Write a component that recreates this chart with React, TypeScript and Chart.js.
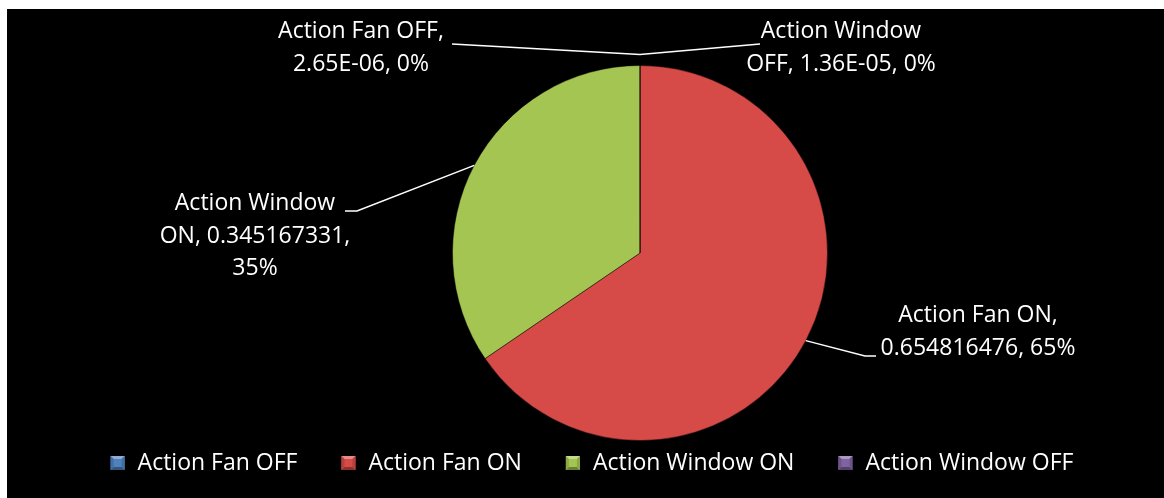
import React, { useEffect, useRef } from "react";
import { Chart, ArcElement, PieController } from "chart.js";

Chart.register(ArcElement, PieController);

// ---- data ----
const categories = ["Action Fan OFF", "Action Fan ON", "Action Window ON", "Action Window OFF"];
const values = [2.65e-6, 0.654816476, 0.345167331, 1.36e-5];
const colors = ["#4F81BD", "#D64B47", "#A5C552", "#8064A2"];

// ---- layout/styles (not data) ----
const W = 1164;
const H = 498;
const FONT = "23px 'Open Sans'";
const LINE_H = 32.5;
// text-block offsets from pie centre, wrap width, leader polyline (from arc anchor)
const labelLayout = [
  { dx: -279, dy: -205, wrap: 190, anchorOut: 11, leader: [[-188, -209]] },
  { dx: 338, dy: 79, wrap: 260, anchorOut: 0, leader: [[225, 103], [236, 103]] },
  { dx: -385, dy: -17, wrap: 201, anchorOut: 0, leader: [[-283, -42], [-295, -42]] },
  { dx: 201, dy: -205, wrap: 190, anchorOut: 11, leader: [[120, -209]] },
];

function fmtGeneral(v: number): string {
  if (v !== 0 && Math.abs(v) < 1e-4) {
    const s = v.toExponential(2).toUpperCase(); // 2.65E-6
    return s.replace(/E([+-])(\d)$/, "E$10$2");
  }
  return String(parseFloat(v.toPrecision(9)));
}

function shade(hex: string, f: number): string {
  const n = parseInt(hex.slice(1), 16);
  let r = (n >> 16) & 255, g = (n >> 8) & 255, b = n & 255;
  if (f >= 0) {
    r = r + (255 - r) * f; g = g + (255 - g) * f; b = b + (255 - b) * f;
  } else {
    r = r * (1 + f); g = g * (1 + f); b = b * (1 + f);
  }
  return `rgb(${Math.round(r)},${Math.round(g)},${Math.round(b)})`;
}

function wrapText(ctx: CanvasRenderingContext2D, text: string, maxW: number): string[] {
  const words = text.split(" ");
  const lines: string[] = [];
  let cur = "";
  for (const w of words) {
    const t = cur ? cur + " " + w : w;
    if (cur && ctx.measureText(t).width > maxW) {
      lines.push(cur);
      cur = w;
    } else cur = t;
  }
  if (cur) lines.push(cur);
  return lines;
}

const bgPlugin = {
  id: "bg",
  beforeDraw(chart: any) {
    const ctx = chart.ctx;
    ctx.save();
    ctx.fillStyle = "#ffffff";
    ctx.fillRect(0, 0, W, H);
    ctx.fillStyle = "#000000";
    ctx.fillRect(7, 9, W - 7, H - 9);
    ctx.restore();
  },
};

const labelPlugin = {
  id: "pieLabels",
  afterDraw(chart: any) {
    const ctx: CanvasRenderingContext2D = chart.ctx;
    const meta = chart.getDatasetMeta(0);
    const data: number[] = chart.data.datasets[0].data;
    const total = data.reduce((a, b) => a + b, 0);
    ctx.save();
    ctx.font = FONT;
    ctx.fillStyle = "#ffffff";
    ctx.strokeStyle = "#ffffff";
    ctx.lineWidth = 1.5;
    ctx.textAlign = "center";
    ctx.textBaseline = "middle";
    meta.data.forEach((arc: any, i: number) => {
      const { x, y, startAngle, endAngle, outerRadius } = arc.getProps(
        ["x", "y", "startAngle", "endAngle", "outerRadius"],
        true
      );
      const lay = labelLayout[i];
      const mid = (startAngle + endAngle) / 2;
      const ax = x + Math.cos(mid) * (outerRadius + lay.anchorOut);
      const ay = y + Math.sin(mid) * (outerRadius + lay.anchorOut);
      ctx.beginPath();
      ctx.moveTo(ax, ay);
      lay.leader.forEach((p) => ctx.lineTo(x + p[0], y + p[1]));
      ctx.stroke();
      const pct = Math.round((data[i] / total) * 100) + "%";
      const text = `${chart.data.labels[i]}, ${fmtGeneral(data[i])}, ${pct}`;
      const lines = wrapText(ctx, text, lay.wrap);
      const cx = x + lay.dx;
      const cy = y + lay.dy;
      const top = cy - ((lines.length - 1) * LINE_H) / 2;
      lines.forEach((ln, k) => ctx.fillText(ln, cx, top + k * LINE_H));
    });

    // legend
    const box = 14;
    const gapBox = 13;
    const gapItem = 44;
    const legendCx = 592;
    const legendCy = 463;
    const labels: string[] = chart.data.labels;
    const widths = labels.map((l) => ctx.measureText(l).width);
    const totalW =
      widths.reduce((a, b) => a + b, 0) + labels.length * (box + gapBox) + (labels.length - 1) * gapItem;
    let lx = legendCx - totalW / 2;
    ctx.textAlign = "left";
    labels.forEach((l, i) => {
      const c = colors[i];
      const bx = lx;
      const by = legendCy - box / 2;
      ctx.fillStyle = c;
      ctx.fillRect(bx, by, box, box);
      const bev = 3;
      ctx.fillStyle = shade(c, 0.35);
      ctx.beginPath();
      ctx.moveTo(bx, by); ctx.lineTo(bx + box, by); ctx.lineTo(bx + box - bev, by + bev); ctx.lineTo(bx + bev, by + bev);
      ctx.closePath(); ctx.fill();
      ctx.fillStyle = shade(c, -0.35);
      ctx.beginPath();
      ctx.moveTo(bx, by + box); ctx.lineTo(bx + box, by + box); ctx.lineTo(bx + box - bev, by + box - bev); ctx.lineTo(bx + bev, by + box - bev);
      ctx.closePath(); ctx.fill();
      ctx.fillStyle = shade(c, -0.15);
      ctx.beginPath();
      ctx.moveTo(bx, by); ctx.lineTo(bx + bev, by + bev); ctx.lineTo(bx + bev, by + box - bev); ctx.lineTo(bx, by + box);
      ctx.closePath(); ctx.fill();
      ctx.beginPath();
      ctx.moveTo(bx + box, by); ctx.lineTo(bx + box - bev, by + bev); ctx.lineTo(bx + box - bev, by + box - bev); ctx.lineTo(bx + box, by + box);
      ctx.closePath(); ctx.fill();
      ctx.fillStyle = "#ffffff";
      ctx.fillText(l, bx + box + gapBox, legendCy);
      lx += box + gapBox + widths[i] + gapItem;
    });
    ctx.restore();
  },
};

export default function App() {
  const ref = useRef<HTMLCanvasElement | null>(null);
  useEffect(() => {
    if (!ref.current) return;
    const chart = new Chart(ref.current, {
      type: "pie",
      data: {
        labels: categories,
        datasets: [
          {
            data: values,
            backgroundColor: (ctx: any) => {
              const base = colors[ctx.dataIndex];
              const el = ctx.element;
              if (!el || !ctx.chart.chartArea) return base;
              const { x, y, outerRadius } = el.getProps(["x", "y", "outerRadius"], true);
              if (!outerRadius) return base;
              const g = ctx.chart.ctx.createRadialGradient(x, y, 0, x, y, outerRadius);
              g.addColorStop(0, shade(base, 0.05));
              g.addColorStop(0.85, base);
              g.addColorStop(0.95, shade(base, -0.08));
              g.addColorStop(1, shade(base, -0.25));
              return g;
            },
            borderColor: "rgba(0,0,0,0.45)",
            borderWidth: 1,
          },
        ],
      },
      options: {
        responsive: false,
        animation: false,
        devicePixelRatio: 1,
        layout: { padding: { left: 452, right: 336, top: 65, bottom: 57 } },
        plugins: {
          legend: { display: false },
          tooltip: { enabled: false },
        },
      } as any,
      plugins: [bgPlugin, labelPlugin],
    });
    return () => chart.destroy();
  }, []);
  return (
    <div style={{ position: "fixed", left: 0, top: 0, width: W, height: H }}>
      <canvas ref={ref} width={W} height={H} style={{ width: W, height: H, display: "block" }} />
    </div>
  );
}
